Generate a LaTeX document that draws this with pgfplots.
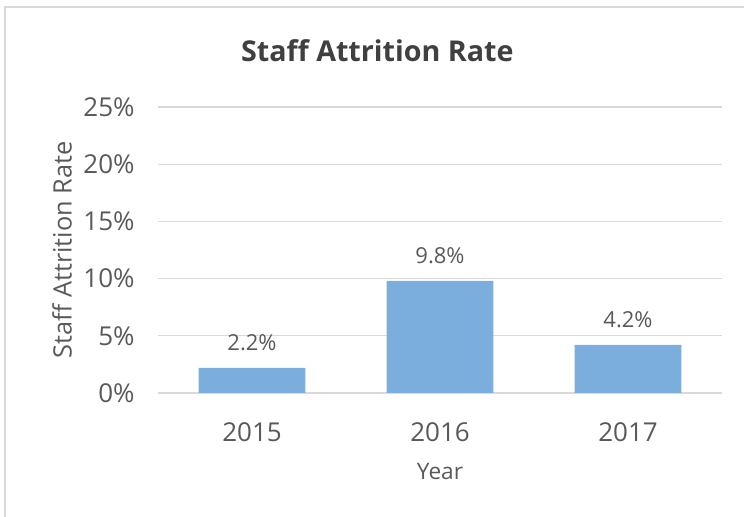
\documentclass[border=0pt]{standalone}
\usepackage{fontspec}
\setmainfont{Open Sans}
\usepackage{pgfplots}
\pgfplotsset{compat=1.18}
\definecolor{barblue}{RGB}{124,174,221}
\definecolor{gridgray}{RGB}{217,217,217}
\definecolor{txtgray}{RGB}{89,89,89}
\definecolor{titlegray}{RGB}{64,64,64}
\begin{document}
\begin{tikzpicture}
% picture is 744 x 517 px (1 px = 0.75 pt), y measured upward
\useasboundingbox (0,0) rectangle (558pt,387.75pt);
\draw[gridgray,line width=1.5pt] (3.75pt,0) -- (3.75pt,382.5pt) -- (558pt,382.5pt);
\node[font=\fontsize{21.5}{25}\selectfont\bfseries,text=titlegray] at (283pt,350pt) {Staff Attrition Rate};
\begin{axis}[
  at={(118.5pt,93pt)}, anchor=south west,
  scale only axis, width=423pt, height=214.5pt,
  ybar, bar width=80pt,
  xmin=-0.5, xmax=2.5,
  ymin=0, ymax=25,
  xtick=data, xticklabels={2015,2016,2017},
  ytick={0,5,10,15,20,25},
  yticklabel={\pgfmathprintnumber{\tick}\%},
  /pgf/number format/assume math mode=true,
  ymajorgrids, grid style={gridgray,line width=0.9pt},
  axis line style={draw=none},
  major tick length=0pt,
  ticklabel style={font=\fontsize{19.5}{23}\selectfont, text=txtgray},
  yticklabel style={xshift=-14pt},
  xticklabel style={yshift=-18.5pt},
  xlabel={Year},
  ylabel={Staff Attrition Rate},
  xlabel style={font=\fontsize{17}{20}\selectfont, text=txtgray,
    at={(axis description cs:0.5,-0.276)}, anchor=center},
  ylabel style={font=\fontsize{19}{22}\selectfont, text=txtgray,
    at={(axis description cs:-0.170,0.5)}, anchor=center},
  nodes near coords={\pgfmathprintnumber[fixed,precision=1,fixed zerofill]{\pgfplotspointmeta}\%},
  every node near coord/.append style={font=\fontsize{16.5}{19}\selectfont, text=txtgray, yshift=9pt},
]
\addplot[fill=barblue, draw=none] coordinates {(0,2.2) (1,9.8) (2,4.2)};
\end{axis}
\end{tikzpicture}
\end{document}
